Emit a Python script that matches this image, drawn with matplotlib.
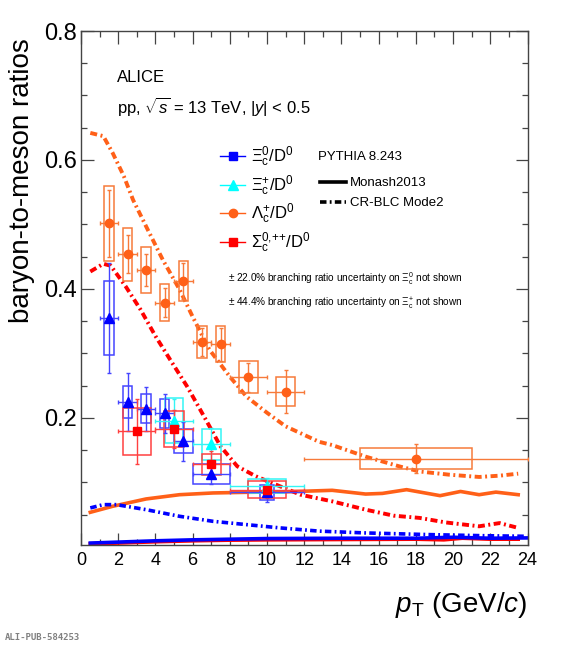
import numpy as np
import matplotlib
matplotlib.use("Agg")
import matplotlib.pyplot as plt
from matplotlib.lines import Line2D

plt.rcParams['font.family'] = ['Liberation Sans', 'DejaVu Sans']
plt.rcParams['mathtext.fontset'] = 'custom'
plt.rcParams['mathtext.rm'] = 'Liberation Sans'
plt.rcParams['mathtext.it'] = 'Liberation Sans:italic'
plt.rcParams['mathtext.bf'] = 'Liberation Sans:bold'

# ---- ALICE data points (value, stat, syst) ----
# Lambda_c+/D0
lc_pt = [1.5, 2.5, 3.5, 4.5, 5.5, 6.5, 7.5, 9, 11, 18]
lc_val = [0.502, 0.454, 0.429, 0.379, 0.413, 0.318, 0.314, 0.263, 0.241, 0.137]
lc_stat = [0.052, 0.030, 0.025, 0.023, 0.028, 0.022, 0.025, 0.022, 0.033, 0.023]
lc_sys = [0.058, 0.041, 0.036, 0.028, 0.031, 0.025, 0.028, 0.025, 0.023, 0.016]
lc_xerr = [0.5, 0.5, 0.5, 0.5, 0.5, 0.5, 0.5, 1, 1, 6]
lc_box = [0.25, 0.25, 0.25, 0.25, 0.25, 0.25, 0.25, 0.5, 0.5, 3]

# Xi_c0/D0
xi0_pt = [1.5, 2.5, 3.5, 4.5, 5.5, 7, 10]
xi0_val = [0.355, 0.225, 0.2145, 0.207, 0.164, 0.113, 0.085]
xi0_stat = [0.086, 0.045, 0.034, 0.030, 0.030, 0.016, 0.016]
xi0_sys = [0.058, 0.025, 0.0225, 0.0227, 0.0186, 0.0153, 0.0116]
xi0_xerr = [0.5, 0.5, 0.5, 0.5, 0.5, 1, 2]
xi0_box = [0.25, 0.25, 0.25, 0.25, 0.5, 1.0, 0.4]

# Xi_c+/D0
xip_pt = [5, 7, 10]
xip_val = [0.196, 0.159, 0.095]
xip_stat = [0.033, 0.025, 0.012]
xip_sys = [0.035, 0.024, 0.011]
xip_xerr = [1, 1, 2]
xip_box = [0.5, 0.5, 1.0]

# Sigma_c0,++/D0
sc_pt = [3, 5, 7, 10]
sc_val = [0.179, 0.183, 0.128, 0.089]
sc_stat = [0.050, 0.030, 0.020, 0.013]
sc_sys = [0.036, 0.028, 0.016, 0.013]
sc_xerr = [1, 1, 1, 2]
sc_box = [0.75, 0.55, 0.5, 1.0]

# ---- PYTHIA 8.243 curves ----
lc_blc_pt = [0.5, 1.2, 1.7, 2.3, 2.8, 3.5, 4.4, 5.3, 6.0, 6.9, 8.0, 8.9, 10.0, 11.0, 12.8,
             13.5, 15.3, 17.1, 18.2, 19.8, 21.4, 22.5, 23.5]
lc_blc_val = [0.642, 0.637, 0.611, 0.575, 0.538, 0.497, 0.445, 0.399, 0.357, 0.306, 0.264,
              0.233, 0.208, 0.187, 0.163, 0.158, 0.140, 0.125, 0.117, 0.112, 0.1085, 0.1105, 0.1136]

sc_blc_pt = [0.5, 1.2, 1.6, 2.4, 3.2, 4.0, 4.8, 5.7, 6.6, 7.5, 8.4, 9.4, 10.7, 11.8, 13.5,
             15.3, 16.8, 18.2, 19.6, 21.4, 22.5, 23.5]
sc_blc_val = [0.427, 0.439, 0.436, 0.404, 0.368, 0.327, 0.290, 0.249, 0.203, 0.156, 0.125,
              0.1095, 0.094, 0.081, 0.0707, 0.0578, 0.0485, 0.045, 0.038, 0.032, 0.037, 0.0295]

lc_mon_pt = [0.5, 1.7, 3.5, 5.3, 7.1, 8.9, 10.7, 11.8, 13.5, 15.3, 16.2, 17.5, 19.3, 20.4,
             21.4, 22.3, 23.5]
lc_mon_val = [0.0537, 0.063, 0.0744, 0.081, 0.0837, 0.0847, 0.0853, 0.0862, 0.0878, 0.082,
              0.083, 0.0888, 0.0795, 0.086, 0.081, 0.085, 0.081]

xi_blc_pt = [0.5, 1.2, 1.9, 3.5, 5.3, 7.1, 8.9, 10.7, 12.8, 15.3, 18.9, 21.5, 23.9]
xi_blc_val = [0.0605, 0.0656, 0.0656, 0.0578, 0.0475, 0.0397, 0.0346, 0.0295, 0.0245,
              0.0217, 0.019, 0.0175, 0.0165]

xi_mon_pt = [0.5, 2, 4, 6, 8, 10, 14, 18, 20, 22, 24]
xi_mon_val = [0.006, 0.0075, 0.0095, 0.011, 0.012, 0.013, 0.0135, 0.0135, 0.015, 0.0135, 0.014]

sc_mon_pt = [0.5, 2, 4, 6, 8, 10, 14, 18, 19.5, 20.5, 22, 23.5]
sc_mon_val = [0.005, 0.006, 0.008, 0.0095, 0.0105, 0.011, 0.0115, 0.012, 0.011, 0.0135, 0.012, 0.012]

BLUE = '#0000ff'
CYAN = '#00ffff'
ORANGE = '#ff6018'
RED = '#ff0000'
dashdot = (0, (1.8, 0.9, 0.5, 0.9))

fig = plt.figure(figsize=(5.61, 6.5), dpi=100)
ax = fig.add_axes([81 / 561, 1 - 545 / 650, 446.5 / 561, 514 / 650])

# model curves
ax.plot(sc_mon_pt, sc_mon_val, color=RED, lw=2.6, zorder=2)
ax.plot(xi_mon_pt, xi_mon_val, color=BLUE, lw=2.6, zorder=2)
ax.plot(lc_mon_pt, lc_mon_val, color=ORANGE, lw=2.6, zorder=2)
ax.plot(xi_blc_pt, xi_blc_val, color=BLUE, lw=2.6, ls=dashdot, zorder=2)
ax.plot(sc_blc_pt, sc_blc_val, color=RED, lw=2.8, ls=dashdot, zorder=2)
ax.plot(lc_blc_pt, lc_blc_val, color=ORANGE, lw=2.8, ls=dashdot, zorder=2)


def draw_points(pt, val, stat, sys, xerr, box, color, marker, ms, boxcolor):
    pt = np.array(pt)
    val = np.array(val)
    sys = np.array(sys)
    ax.bar(pt, 2 * sys, bottom=val - sys, width=2 * np.array(box), fill=False,
           edgecolor=boxcolor, linewidth=1.1, zorder=3)
    ax.errorbar(pt, val, yerr=stat, xerr=xerr, fmt=marker, color=color, ms=ms,
                elinewidth=1.0, capsize=1.5, capthick=1.0, ecolor=boxcolor, zorder=4)


draw_points(xi0_pt, xi0_val, xi0_stat, xi0_sys, xi0_xerr, xi0_box, BLUE, '^', 7.5, '#4545ff')
draw_points(xip_pt, xip_val, xip_stat, xip_sys, xip_xerr, xip_box, CYAN, '^', 7.5, '#33f5f5')
draw_points(lc_pt, lc_val, lc_stat, lc_sys, lc_xerr, lc_box, ORANGE, 'o', 6, '#f77a3a')
draw_points(sc_pt, sc_val, sc_stat, sc_sys, sc_xerr, sc_box, RED, 's', 5.5, '#ff4040')

ax.set_xlim(0, 24)
ax.set_ylim(0.003, 0.8)
ax.set_xticks(np.arange(0, 25, 2))
ax.set_xticks(np.arange(0, 25, 1), minor=True)
ax.set_yticks([0.2, 0.4, 0.6, 0.8])
ax.set_yticklabels(['0.2', '0.4', '0.6', '0.8'])
ax.set_yticks(np.arange(0.05, 0.8, 0.05), minor=True)
ax.tick_params(which='both', direction='in', top=True, right=True, color='#444444', width=0.9)
ax.tick_params(which='major', length=9)
ax.tick_params(which='minor', length=4.5)
ax.tick_params(axis='x', labelsize=13, pad=5)
ax.tick_params(axis='y', labelsize=17, pad=3)
for s in ax.spines.values():
    s.set_color('#444444')
    s.set_linewidth(1.0)

fig.text(22 / 561, 1 - 38 / 650, 'baryon-to-meson ratios', rotation=90, va='top', ha='center',
         fontsize=20)
fig.text(527 / 561, 1 - 605 / 650, r'$p_{\rm T}$ (GeV/$c$)', ha='right', va='center', fontsize=20)
fig.text(5 / 561, 1 - 638 / 650, 'ALI-PUB-584253', family='DejaVu Sans Mono', weight='bold',
         color='#808080', fontsize=6.5, va='center')

fig.text(117 / 561, 1 - 78 / 650, 'ALICE', fontsize=12, va='center')
fig.text(117 / 561, 1 - 106 / 650, r'pp, $\sqrt{s}$ = 13 TeV, $|y|$ < 0.5', fontsize=12,
         va='center')

# species legend
h_xi0 = Line2D([], [], color=BLUE, marker='s', ms=5.5, lw=1)
h_xip = Line2D([], [], color=CYAN, marker='^', ms=7.5, lw=1)
h_lc = Line2D([], [], color=ORANGE, marker='o', ms=6, lw=1)
h_sc = Line2D([], [], color=RED, marker='s', ms=5.5, lw=1)
leg1 = ax.legend([h_xi0, h_xip, h_lc, h_sc],
                 [r'$\Xi_{\rm c}^{0}/{\rm D}^{0}$', r'$\Xi_{\rm c}^{+}/{\rm D}^{0}$',
                  r'$\Lambda_{\rm c}^{+}/{\rm D}^{0}$',
                  r'$\Sigma_{\rm c}^{0,\!{+}{+}}/{\rm D}^{0}$'],
                 loc='upper left', bbox_to_anchor=(220 / 561, 1 - 145 / 650),
                 bbox_transform=fig.transFigure, frameon=False, fontsize=12,
                 handlelength=1.5, handletextpad=0.35, labelspacing=0.24,
                 borderpad=0, borderaxespad=0)
ax.add_artist(leg1)

fig.text(318 / 561, 1 - 157 / 650, 'PYTHIA 8.243', fontsize=9.5, va='center')
h_mon = Line2D([], [], color='black', lw=2.6)
h_blc = Line2D([], [], color='black', lw=2.6, ls=dashdot)
ax.legend([h_mon, h_blc], ['Monash2013', 'CR-BLC Mode2'], loc='upper left',
          bbox_to_anchor=(320 / 561, 1 - 177 / 650), bbox_transform=fig.transFigure,
          frameon=False, fontsize=9.5, handlelength=2.0, handletextpad=0.3,
          labelspacing=0.58, borderpad=0, borderaxespad=0)

fig.text(228 / 561, 1 - 279 / 650,
         r'$\pm$ 22.0% branching ratio uncertainty on $\Xi_{\rm c}^{0}$ not shown',
         fontsize=7.2, va='center')
fig.text(228 / 561, 1 - 304 / 650,
         r'$\pm$ 44.4% branching ratio uncertainty on $\Xi_{\rm c}^{+}$ not shown',
         fontsize=7.2, va='center')

fig.savefig('out.png', dpi=100)
